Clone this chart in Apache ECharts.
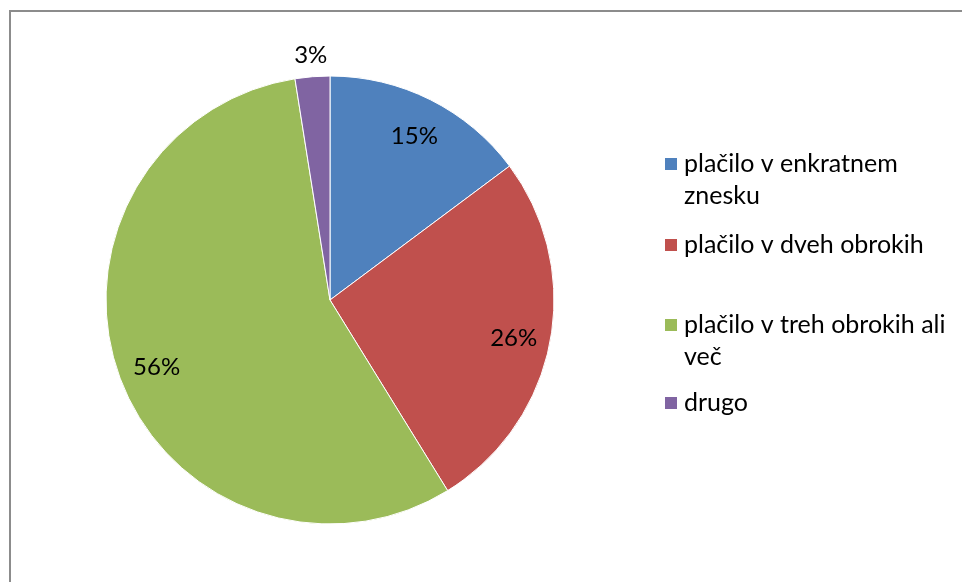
<!DOCTYPE html>
<html>
<head>
<meta charset="utf-8">
<script src="https://cdn.jsdelivr.net/npm/echarts@6/dist/echarts.min.js"></script>
<style>
  html, body { margin: 0; padding: 0; background: #fff; }
  #chart { width: 962px; height: 582px; }
</style>
</head>
<body>
<div id="chart"></div>
<script>
// podatki, odčitani s slike (deleži v %)
const categories = [
  "plačilo v enkratnem znesku",
  "plačilo v dveh obrokih",
  "plačilo v treh obrokih ali več",
  "drugo"
];
const values = [14.8, 26.4, 56.3, 2.5];
const colors = ["#4F81BD", "#C0504D", "#9BBB59", "#8064A2"];

// legenda je v izvirniku prelomljena ročno
// (prazna vrstica zgoraj, da je ikona poravnana s prvo vrstico besedila)
const legendText = {
  "plačilo v enkratnem znesku": " \nplačilo v enkratnem\nznesku",
  "plačilo v dveh obrokih": "plačilo v dveh obrokih",
  "plačilo v treh obrokih ali več": " \nplačilo v treh obrokih ali\nveč",
  "drugo": "drugo"
};

const font = "Lato";

let pieData = categories.map((name, i) => ({
  name: name,
  value: values[i],
  itemStyle: { color: colors[i] }
}));

function legendFor(name, top) {
  return {
    data: [name],
    orient: "vertical",
    left: 663,
    top: top,
    padding: 0,
    icon: "rect",
    itemWidth: 14,
    itemHeight: 14,
    selectedMode: false,
    formatter: (n) => legendText[n],
    textStyle: {
      fontFamily: font,
      fontSize: 25,
      color: "#000",
      lineHeight: 32,
      padding: [0, 0, 0, 1]
    }
  };
}

let chart = echarts.init(document.getElementById("chart"));
chart.setOption({
  animation: false,
  graphic: [
    {
      type: "rect",
      shape: { x: 10, y: 11, width: 1000, height: 1000 },
      style: { fill: "none", stroke: "#8c8c8c", lineWidth: 2 },
      silent: true,
      z: 0
    }
  ],
  legend: [
    legendFor(categories[0], 116),
    legendFor(categories[1], 229),
    legendFor(categories[2], 277),
    legendFor(categories[3], 387)
  ],
  series: [
    {
      // vidna torta
      type: "pie",
      center: [330, 300],
      radius: [0, 224],
      startAngle: 90,
      clockwise: true,
      percentPrecision: 0,
      label: { show: false },
      labelLine: { show: false },
      itemStyle: { borderColor: "#fff", borderWidth: 1 },
      emphasis: { disabled: true },
      data: pieData
    },
    {
      // nevidna plast za notranje oznake (sredina polmera = 183)
      type: "pie",
      center: [331, 303],
      radius: [0, 366],
      startAngle: 90,
      percentPrecision: 0,
      silent: true,
      itemStyle: { color: "transparent" },
      labelLine: { show: false },
      label: {
        show: true,
        position: "inside",
        formatter: (p) => (p.dataIndex === 3 ? "" : p.percent + "%"),
        fontFamily: font,
        fontSize: 24,
        color: "#000"
      },
      emphasis: { disabled: true },
      data: categories.map((name, i) => ({ name: name, value: values[i] }))
    },
    {
      // nevidna plast za oznako "drugo" nad torto
      type: "pie",
      center: [330, 300],
      radius: [0, 484],
      startAngle: 90,
      percentPrecision: 0,
      silent: true,
      itemStyle: { color: "transparent" },
      labelLine: { show: false },
      label: {
        show: true,
        position: "inside",
        formatter: (p) => (p.dataIndex === 3 ? p.percent + "%" : ""),
        fontFamily: font,
        fontSize: 24,
        color: "#000"
      },
      emphasis: { disabled: true },
      data: categories.map((name, i) => ({ name: name, value: values[i] }))
    }
  ]
});

window.addEventListener("resize", () => {
  chart.resize();
});
</script>
</body>
</html>
